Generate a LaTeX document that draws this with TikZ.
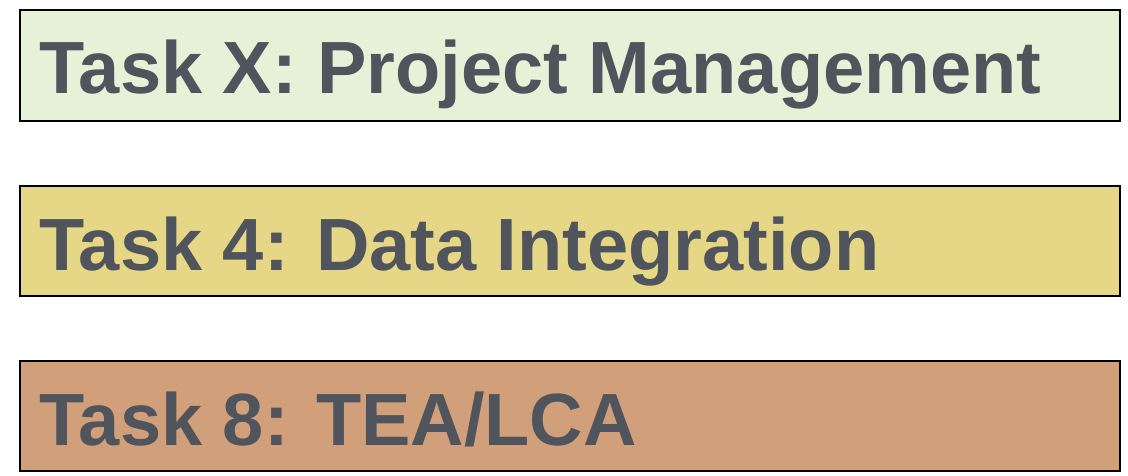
\documentclass[tikz,border=0pt]{standalone}
\usepackage{fontspec}
\setmainfont{Liberation Sans}
\definecolor{txtgray}{HTML}{50545C}
\definecolor{fillA}{HTML}{E6F2D8}
\definecolor{fillB}{HTML}{E5D785}
\definecolor{fillC}{HTML}{D1A07B}
\tikzset{
  taskbox/.style={draw=black, line width=1.6pt},
  tasktext/.style={anchor=base west, inner sep=0pt, text=txtgray, font=\fontsize{74}{80}\selectfont\bfseries}
}
\begin{document}
\begin{tikzpicture}[x=1pt,y=-1pt]
\useasboundingbox (0,0) rectangle (1128,476);
\filldraw[taskbox, fill=fillA] (20,10) rectangle (1120,121);
\filldraw[taskbox, fill=fillB] (20,186) rectangle (1120,296);
\filldraw[taskbox, fill=fillC] (20,361) rectangle (1120,471);
\node[tasktext] (t1) at (39,94) {Task X: Project Management};
\node[tasktext] (t2) at (39,270) {Task 4: Data Integration};
\node[tasktext] (t3) at (39,445) {Task 8: TEA/LCA};
\end{tikzpicture}
\end{document}
